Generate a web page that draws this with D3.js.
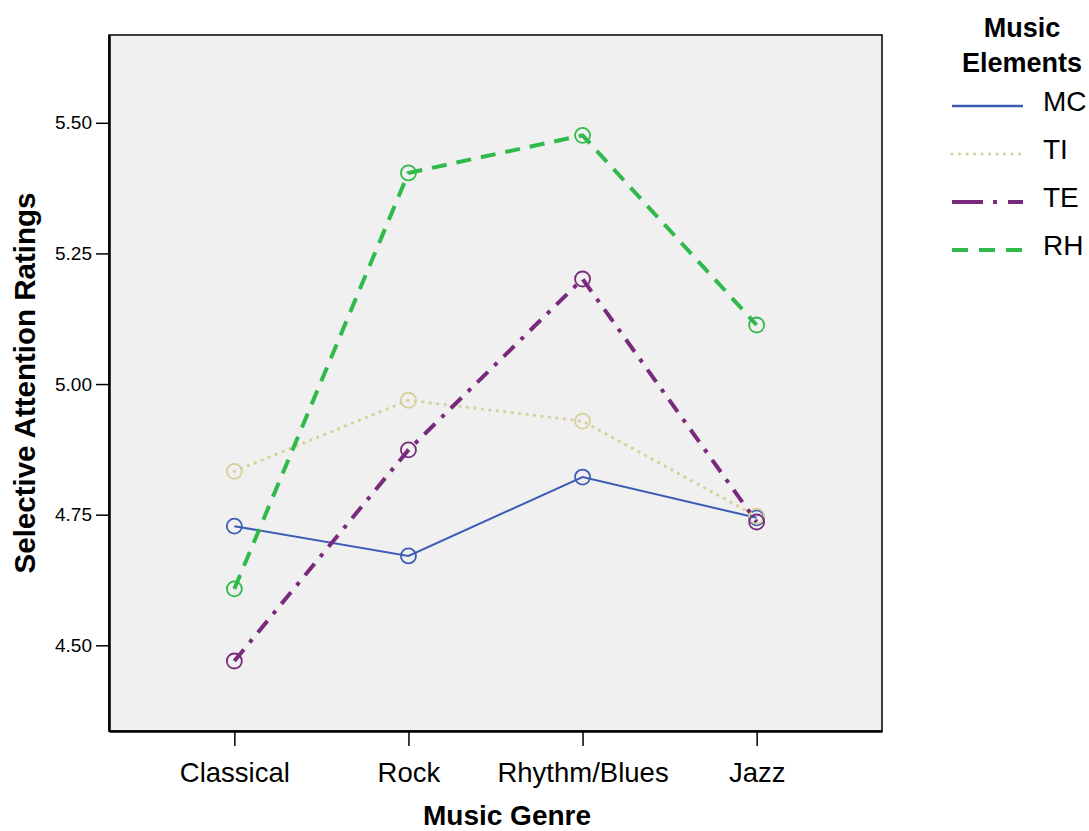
<!DOCTYPE html>
<html>
<head>
<meta charset="utf-8">
<script src="https://cdn.jsdelivr.net/npm/d3@7"></script>
<style>
  body { margin: 0; background: #fff; }
  text { font-family: "Liberation Sans", Arial, sans-serif; fill: #000; }
</style>
</head>
<body>
<div id="chart"></div>
<script>
// values
const genres = ["Classical", "Rock", "Rhythm/Blues", "Jazz"];
const elements = ["MC", "TI", "TE", "RH"];
const mcValues = [4.728, 4.671, 4.822, 4.744];
const tiValues = [4.833, 4.969, 4.929, 4.747];
const teValues = [4.470, 4.874, 5.201, 4.736];
const rhValues = [4.608, 5.404, 5.476, 5.113];
const yTicks = [4.50, 4.75, 5.00, 5.25, 5.50];

const series = [
  { name: "MC", values: mcValues, color: "#3d5cb6", width: 2, dash: null, legendDash: null },
  { name: "TI", values: tiValues, color: "#d5d19b", width: 3.2, dash: "0.1,7.4", legendDash: "0.1,7.4", cap: "round" },
  { name: "TE", values: teValues, color: "#7a2a7c", width: 4, dash: "15,9,4,9", legendDash: "31,10,4,11" },
  { name: "RH", values: rhValues, color: "#2fba4b", width: 4, dash: "15,10", legendDash: "16,11" }
];

const W = 1089, H = 831;
const plot = { left: 109, right: 882, top: 35, bottom: 731 };

const svg = d3.select("#chart").append("svg")
  .attr("width", W)
  .attr("height", H);

const x = d3.scalePoint()
  .domain(genres)
  .range([plot.left, plot.right])
  .padding(0.72);

const y = d3.scaleLinear()
  .domain([4.336, 5.668])
  .range([plot.bottom, plot.top]);

// plot background + frame
svg.append("rect")
  .attr("x", plot.left)
  .attr("y", plot.top)
  .attr("width", plot.right - plot.left)
  .attr("height", plot.bottom - plot.top)
  .attr("fill", "#f0f0f0")
  .attr("stroke", "#000")
  .attr("stroke-width", 1.5);

// axes
const xAxis = svg.append("g")
  .attr("transform", `translate(0,${plot.bottom})`)
  .call(d3.axisBottom(x).tickSizeInner(15).tickSizeOuter(0).tickPadding(16));
xAxis.select(".domain").attr("stroke-width", 2.5);
xAxis.selectAll(".tick line").attr("stroke-width", 1.5);
xAxis.selectAll(".tick text")
  .attr("font-size", 27.5)
  .attr("font-family", "Liberation Sans, Arial, sans-serif")
  .attr("fill", "#000");

const yAxis = svg.append("g")
  .attr("transform", `translate(${plot.left},0)`)
  .call(d3.axisLeft(y).tickValues(yTicks).tickFormat(d3.format(".2f"))
    .tickSizeInner(13).tickSizeOuter(0).tickPadding(4));
yAxis.select(".domain").attr("stroke-width", 2.5);
yAxis.selectAll(".tick line").attr("stroke-width", 1.5);
yAxis.selectAll(".tick text")
  .attr("font-size", 19)
  .attr("font-family", "Liberation Sans, Arial, sans-serif")
  .attr("fill", "#000");

// axis titles
svg.append("text")
  .attr("transform", `translate(35,383) rotate(-90)`)
  .attr("text-anchor", "middle")
  .attr("font-size", 29.5)
  .attr("font-weight", "bold")
  .text("Selective Attention Ratings");

svg.append("text")
  .attr("x", 507)
  .attr("y", 825)
  .attr("text-anchor", "middle")
  .attr("font-size", 28)
  .attr("font-weight", "bold")
  .text("Music Genre");

// lines + markers
const line = d3.line()
  .x((d, i) => x(genres[i]))
  .y(d => y(d));

series.forEach(s => {
  svg.append("path")
    .datum(s.values)
    .attr("fill", "none")
    .attr("stroke", s.color)
    .attr("stroke-width", s.width)
    .attr("stroke-dasharray", s.dash)
    .attr("stroke-linecap", s.cap || "butt")
    .attr("d", line);

  svg.append("g").selectAll("circle")
    .data(s.values)
    .join("circle")
    .attr("cx", (d, i) => x(genres[i]))
    .attr("cy", d => y(d))
    .attr("r", 7.5)
    .attr("fill", "none")
    .attr("stroke", s.color)
    .attr("stroke-width", 1.8);
});

// legend
const legend = svg.append("g");
legend.append("text")
  .attr("x", 1022).attr("y", 37)
  .attr("text-anchor", "middle")
  .attr("font-size", 27)
  .attr("font-weight", "bold")
  .text("Music");
legend.append("text")
  .attr("x", 1022).attr("y", 72)
  .attr("text-anchor", "middle")
  .attr("font-size", 27)
  .attr("font-weight", "bold")
  .text("Elements");

const legendY = d3.scalePoint().domain(elements).range([106, 250]);

series.forEach(s => {
  const ly = legendY(s.name);
  legend.append("line")
    .attr("x1", 952).attr("x2", 1023)
    .attr("y1", ly).attr("y2", ly)
    .attr("stroke", s.color)
    .attr("stroke-width", s.name === "MC" ? 2.5 : s.width)
    .attr("stroke-dasharray", s.legendDash)
    .attr("stroke-linecap", s.cap || "butt");
  legend.append("text")
    .attr("x", 1043)
    .attr("y", ly + 5)
    .attr("font-size", 28)
    .text(s.name);
});
</script>
</body>
</html>
